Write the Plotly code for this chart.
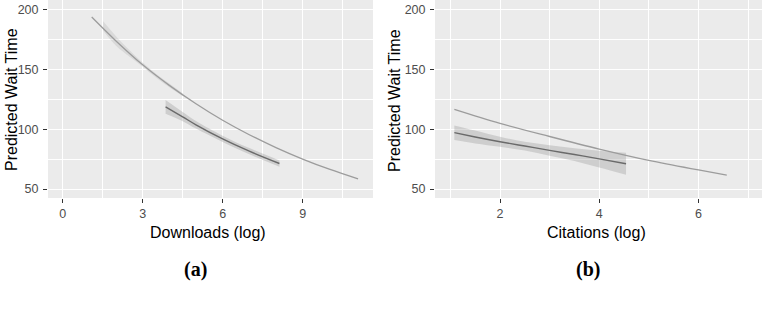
import plotly.graph_objects as go

# ---- Panel (a): Downloads (log) ----
a_upper_x = [1.09, 2, 3, 4, 5, 6, 7, 8, 9, 10, 11.08]
a_upper_y = [194, 174, 154, 136.8, 121.4, 107.6, 95.5, 84.7, 75.1, 66.6, 58.5]
a_upper_band_x = [1.52, 2, 2.5, 3, 3.5, 4.0, 4.5]
a_upper_band_hi = [190.5, 178, 166.5, 156.0, 146.5, 138.3, 130.2]
a_upper_band_lo = [182.5, 170, 161.0, 152.5, 143.5, 135.3, 128.0]

a_lower_x = [3.86, 4.5, 5.0, 6.0, 7.0, 8.13]
a_lower_y = [118.8, 110.5, 103.8, 92.0, 81.7, 71.4]
a_lower_hi = [124.5, 114.5, 107.0, 94.7, 84.3, 74.0]
a_lower_lo = [113.0, 106.8, 100.6, 89.3, 79.1, 68.6]

# ---- Panel (b): Citations (log) ----
b_upper_x = [1.08, 2, 3, 4, 5, 6, 6.57]
b_upper_y = [116.7, 105.0, 94.0, 83.5, 74.0, 66.0, 61.7]

b_lower_x = [1.08, 1.5, 2.0, 2.5, 3.0, 3.5, 4.0, 4.54]
b_lower_y = [97.2, 93.6, 89.6, 86.0, 82.4, 78.9, 75.3, 71.2]
b_lower_hi = [103.3, 99.0, 93.8, 89.5, 86.6, 84.2, 82.0, 80.3]
b_lower_lo = [91.1, 88.2, 85.4, 82.2, 77.9, 73.4, 68.0, 62.0]

x_ticks_a = [0, 3, 6, 9]
x_ticks_b = [2, 4, 6]
y_ticks = [50, 100, 150, 200]

BAND = "rgba(153,153,153,0.35)"
BAND_LIGHT = "rgba(153,153,153,0.22)"
LIGHT = "#9c9c9c"
DARK = "#6a6a6a"

fig = go.Figure()

def band(x, lo, hi, xa, ya, color=BAND):
    fig.add_trace(go.Scatter(x=x, y=lo, mode="lines", line=dict(width=0, shape="spline"),
                             xaxis=xa, yaxis=ya, showlegend=False, hoverinfo="skip"))
    fig.add_trace(go.Scatter(x=x, y=hi, mode="lines", line=dict(width=0, shape="spline"),
                             fill="tonexty", fillcolor=color,
                             xaxis=xa, yaxis=ya, showlegend=False, hoverinfo="skip"))

def line(x, y, color, xa, ya, w=1.4):
    fig.add_trace(go.Scatter(x=x, y=y, mode="lines", line=dict(color=color, width=w, shape="spline"),
                             xaxis=xa, yaxis=ya, showlegend=False))

band(a_upper_band_x, a_upper_band_lo, a_upper_band_hi, "x", "y", BAND_LIGHT)
band(a_lower_x, a_lower_lo, a_lower_hi, "x", "y")
line(a_upper_x, a_upper_y, LIGHT, "x", "y", 1.3)
line(a_lower_x, a_lower_y, DARK, "x", "y")

band(b_lower_x, b_lower_lo, b_lower_hi, "x2", "y2")
line(b_upper_x, b_upper_y, LIGHT, "x2", "y2", 1.3)
line(b_lower_x, b_lower_y, DARK, "x2", "y2")

W, H = 771, 319
top_px, bot_px = 0, 198
ydom = [1 - bot_px / H, 1 - top_px / H]

tickfont = dict(family="Liberation Sans, Arial", size=12.5, color="#4d4d4d")
common = dict(showgrid=True, gridcolor="white", gridwidth=1.1, zeroline=False,
              ticks="outside", ticklen=4, tickcolor="#333333", tickwidth=1,
              tickfont=tickfont, showline=False)

fig.update_layout(
    width=W, height=H, margin=dict(l=0, r=0, t=0, b=0),
    paper_bgcolor="white", plot_bgcolor="#ebebeb",
    xaxis=dict(common, domain=[48 / W, 373 / W], range=[-0.55, 11.64],
               tickvals=x_ticks_a, anchor="y", ticklabelstandoff=0,
               minor=dict(dtick=1.5, tick0=0, showgrid=True, gridcolor="white", gridwidth=0.5, ticklen=0)),
    yaxis=dict(common, domain=ydom, range=[42.5, 208.3], tickvals=y_ticks, anchor="x",
               ticklabelstandoff=2,
               minor=dict(dtick=25, tick0=0, showgrid=True, gridcolor="white", gridwidth=0.5, ticklen=0)),
    xaxis2=dict(common, domain=[435 / W, 762 / W], range=[0.69, 7.28],
                tickvals=x_ticks_b, anchor="y2", ticklabelstandoff=0,
                minor=dict(dtick=1, tick0=0, showgrid=True, gridcolor="white", gridwidth=0.5, ticklen=0)),
    yaxis2=dict(common, domain=ydom, range=[42.5, 208.3], tickvals=y_ticks, anchor="x2",
                ticklabelstandoff=2,
                minor=dict(dtick=25, tick0=0, showgrid=True, gridcolor="white", gridwidth=0.5, ticklen=0)),
)

title_font = dict(family="Liberation Sans, Arial", size=16, color="black")
ann = [
    dict(text="Predicted Wait Time", x=11 / W, y=1 - 100 / H, textangle=-90),
    dict(text="Predicted Wait Time", x=394 / W, y=1 - 100 / H, textangle=-90),
    dict(text="Downloads (log)", x=208 / W, y=1 - 232 / H),
    dict(text="Citations (log)", x=596 / W, y=1 - 232 / H),
]
for a in ann:
    fig.add_annotation(xref="paper", yref="paper", showarrow=False, font=title_font,
                       xanchor="center", yanchor="middle", **a)

label_font = dict(family="Liberation Serif, Times New Roman", size=20, color="black")
for txt, xp in [("<b>(a)</b>", 195), ("<b>(b)</b>", 588)]:
    fig.add_annotation(xref="paper", yref="paper", showarrow=False, font=label_font,
                       text=txt, x=xp / W, y=1 - 269 / H, xanchor="center", yanchor="middle")

fig.write_html("out.html", config={"displayModeBar": False},
               post_script="document.body.style.margin='0';document.body.style.overflow='hidden';")
